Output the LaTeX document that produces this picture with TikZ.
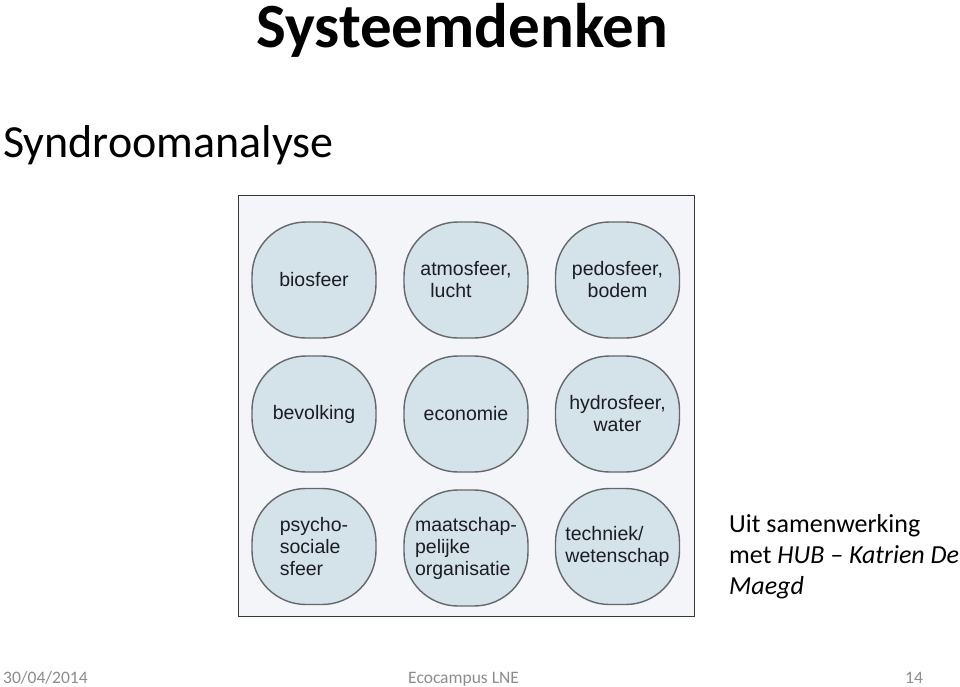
\documentclass[tikz,border=0pt]{standalone}
\usepackage{fontspec}
\setmainfont{Carlito}
\newfontfamily\arialfont{Liberation Sans}
\definecolor{boxfill}{RGB}{212,227,233}
\definecolor{boxline}{RGB}{100,103,107}
\definecolor{panelfill}{RGB}{244,245,248}
\definecolor{panelline}{RGB}{55,55,58}
\definecolor{boxtext}{RGB}{28,28,36}
\definecolor{footgray}{RGB}{140,140,140}
\tikzset{
  sphere/.style={draw=boxline, line width=1.4pt, fill=boxfill, rounded corners=54pt,
    minimum width=124pt, minimum height=116pt, inner sep=0pt, text=boxtext,
    font=\arialfont\fontsize{19.5}{22}\selectfont},
  plain/.style={inner sep=0pt, anchor=base west},
  foot/.style={plain, text=footgray, font=\fontsize{17.5}{20}\selectfont},
}
\begin{document}
\begin{tikzpicture}[x=1pt,y=-1pt]
\useasboundingbox (0,0) rectangle (960,687);
% titles
\node[plain, font=\bfseries\fontsize{63}{70}\selectfont] (title) at (256,48) {Systeemdenken};
\node[plain, font=\fontsize{46}{50}\selectfont] (sub) at (3,158) {Syndroomanalyse};
% panel
\node[draw=panelline, line width=1.8pt, fill=panelfill, minimum width=456pt, minimum height=421pt, inner sep=0pt] (panel) at (466.5,406) {};
% spheres
\node[sphere, align=center] (bio) at (314,280) {biosfeer};
\node[sphere, align=center] (atm) at (466,280) {atmosfeer,\\lucht\hspace*{30pt}};
\node[sphere, align=center] (ped) at (617.5,280) {pedosfeer,\\bodem};
\node[sphere, align=center] (bev) at (314,414) {bevolking};
\node[sphere, align=center] (eco) at (466,414) {economie};
\node[sphere, align=center] (hyd) at (617.5,414) {hydrosfeer,\\water};
\node[sphere, align=left] (psy) at (314,546.5) {psycho-\\sociale\\sfeer};
\node[sphere, align=left] (maa) at (466,548) {maatschap-\\pelijke\\organisatie};
\node[sphere, align=left] (tec) at (617.5,546.5) {techniek/\\wetenschap};
% credit
\node[plain, font=\fontsize{26}{31}\selectfont] (cr1) at (729,532) {Uit samenwerking};
\node[plain, font=\fontsize{26}{31}\selectfont] (cr2) at (729,563) {met \textit{HUB -- Katrien De}};
\node[plain, font=\fontsize{26}{31}\selectfont\itshape] (cr3) at (729,594) {Maegd};
% footer
\node[foot] (date) at (3,683) {30/04/2014};
\node[foot] (org) at (408,683) {Ecocampus LNE};
\node[foot] (page) at (905,683) {14};
\end{tikzpicture}
\end{document}
